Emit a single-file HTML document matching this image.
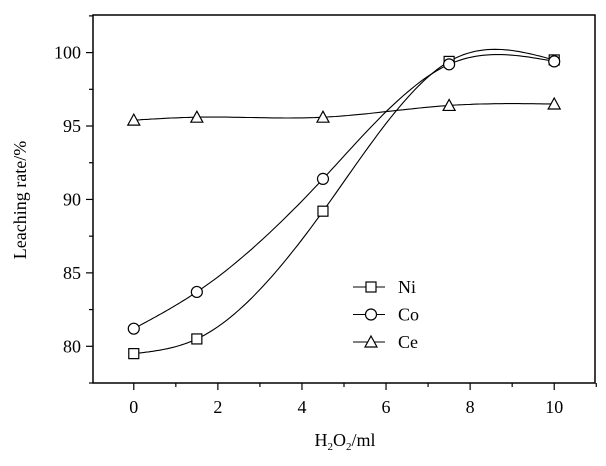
<!DOCTYPE html>
<html><head><meta charset="utf-8"><style>
body{margin:0;background:#fff}
svg{display:block;font-family:"Liberation Serif",serif}
</style></head><body>
<svg id="chart" width="606" height="466" viewBox="0 0 606 466" xmlns="http://www.w3.org/2000/svg">
<rect x="0" y="0" width="606" height="466" fill="#fff"/>
<g id="plot"></g>
</svg>
<script>
const xValues=[0,1.5,4.5,7.5,10];
const niValues=[79.5,80.5,89.2,99.4,99.5];
const coValues=[81.2,83.7,91.4,99.2,99.4];
const ceValues=[95.4,95.6,95.6,96.4,96.5];
const xTicks=[0,2,4,6,8,10];
const yTicks=[80,85,90,95,100];
const L=93,R=595,T=15,B=383;
const xMin=-0.97,xMax=10.97,yMin=77.5,yMax=102.56;
const sx=v=>L+(v-xMin)/(xMax-xMin)*(R-L);
const sy=v=>B-(v-yMin)/(yMax-yMin)*(B-T);
const NS="http://www.w3.org/2000/svg";
const g=document.getElementById('plot');
function mk(tag,attrs,parent){const e=document.createElementNS(NS,tag);for(const k in attrs)e.setAttribute(k,attrs[k]);(parent||g).appendChild(e);return e;}
// frame
const fr=mk('rect',{x:L,y:T,width:R-L,height:B-T,fill:'none',stroke:'#000','stroke-width':1.5});


// x ticks
for(let v=-0;v<=11;v+=1){const major=v%2===0;const t=mk('line',{x1:sx(v),x2:sx(v),y1:B,y2:B+(major?7:4),stroke:'#000','stroke-width':1.2});

}
xTicks.forEach(v=>{const t=mk('text',{x:sx(v),y:B+30,'text-anchor':'middle','font-size':18});t.textContent=v;

});
for(let v=77.5;v<=102.5;v+=2.5){const major=v%5===0;const t=mk('line',{x1:L-(major?7:4),x2:L,y1:sy(v),y2:sy(v),stroke:'#000','stroke-width':1.2});

}
yTicks.forEach(v=>{const t=mk('text',{x:L-12,y:sy(v)+6,'text-anchor':'end','font-size':18});t.textContent=v;

});
const xt=mk('text',{x:345,y:446,'text-anchor':'middle','font-size':18});
xt.innerHTML='H<tspan font-size="11" dy="4">2</tspan><tspan dy="-4">O</tspan><tspan font-size="11" dy="4">2</tspan><tspan dy="-4">/ml</tspan>';


const yt=mk('text',{x:0,y:0,'text-anchor':'middle','font-size':18,transform:'translate(26,200) rotate(-90)'});
yt.textContent='Leaching rate/%';


function spline(xs,ys){const n=xs.length,h=[],a=[],l=[1],mu=[0],z=[0],c=new Array(n).fill(0),b=[],d=[];
for(let i=0;i<n-1;i++)h[i]=xs[i+1]-xs[i];
for(let i=1;i<n-1;i++)a[i]=3/h[i]*(ys[i+1]-ys[i])-3/h[i-1]*(ys[i]-ys[i-1]);
for(let i=1;i<n-1;i++){l[i]=2*(xs[i+1]-xs[i-1])-h[i-1]*mu[i-1];mu[i]=h[i]/l[i];z[i]=(a[i]-h[i-1]*z[i-1])/l[i];}
for(let j=n-2;j>=0;j--){c[j]=(j>0?z[j]:0)-mu[j]*c[j+1];b[j]=(ys[j+1]-ys[j])/h[j]-h[j]*(c[j+1]+2*c[j])/3;d[j]=(c[j+1]-c[j])/(3*h[j]);}
let p='';for(let j=0;j<n-1;j++){for(let k=0;k<=30;k++){const t=h[j]*k/30,x=xs[j]+t,y=ys[j]+b[j]*t+c[j]*t*t+d[j]*t*t*t;p+=(p?'L':'M')+sx(x).toFixed(1)+','+sy(y).toFixed(1);}}return p;}
function marker(type,cx,cy,name,parent){let e;
if(type==='sq')e=mk('rect',{x:cx-5,y:cy-5,width:10,height:10,fill:'#fff',stroke:'#000','stroke-width':1.2},parent);
else if(type==='ci')e=mk('circle',{cx:cx,cy:cy,r:5.5,fill:'#fff',stroke:'#000','stroke-width':1.2},parent);
else e=mk('path',{d:`M${cx},${cy-6}L${cx+6},${cy+5}L${cx-6},${cy+5}Z`,fill:'#fff',stroke:'#000','stroke-width':1.2},parent);

}
const series=[['Ni',niValues,'sq'],['Co',coValues,'ci'],['Ce',ceValues,'tr']];
series.forEach(([nm,vals,m])=>{const gr=mk('g',{});


mk('path',{d:spline(xValues,vals),fill:'none',stroke:'#000','stroke-width':1.1},gr);
vals.forEach((v,i)=>marker(m,sx(xValues[i]),sy(v),'point-'+nm.toLowerCase(),gr));});
// legend
const lg=mk('g',{});


series.forEach(([nm,vals,m],i)=>{const y=287+i*27.5;
const e=mk('g',{},lg);


mk('line',{x1:353,x2:385,y1:y,y2:y,stroke:'#000','stroke-width':1.1},e);
marker(m,371,y,'legend-marker',e);
const t=mk('text',{x:398,y:y+6,'font-size':18},e);t.textContent=nm;});
</script>
</body></html>
